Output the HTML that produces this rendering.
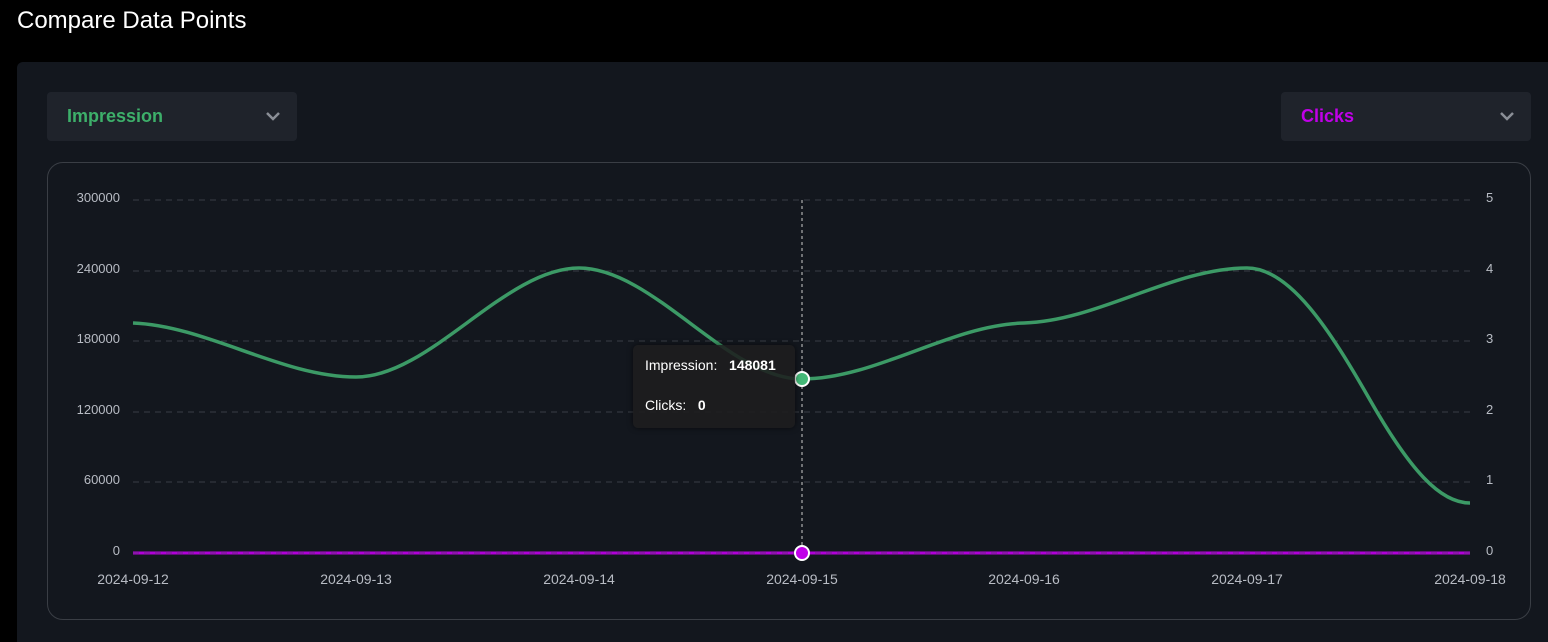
<!DOCTYPE html>
<html><head><meta charset="utf-8"><style>
body{margin:0;width:1548px;height:635px;background:#000;overflow:hidden;font-family:"Liberation Sans",sans-serif;position:relative}
.t{position:absolute;left:17px;top:7px;color:#fff;font-size:24px}
.panel{position:absolute;left:17px;top:62px;width:1531px;height:580px;background:#13171e;border-radius:6px 0 0 0}
.dd{position:absolute;top:92px;width:250px;height:49px;background:#1f232b;border-radius:4px;font-size:18px;font-weight:bold}
.dd span{position:absolute;left:20px;top:14px}
.dd svg{position:absolute;right:16px;top:19px}
.box{position:absolute;left:47px;top:162px;width:1482px;height:456px;border:1px solid #3a3e45;border-radius:16px}
.tip{position:absolute;left:633px;top:345px;width:162px;height:83px;background:rgba(30,30,31,.88);border-radius:5px;box-shadow:0 0 6px rgba(0,0,0,.6);color:#fff;font-size:14px}
</style></head><body>
<div class="t">Compare Data Points</div>
<div class="panel"></div>
<div class="dd" style="left:47px;color:#3daf6a"><span>Impression</span><svg width="16" height="10"><path d="M2 2l6 6 6-6" stroke="#8a8e96" stroke-width="2.5" fill="none"/></svg></div>
<div class="dd" style="left:1281px;color:#c000e8"><span>Clicks</span><svg width="16" height="10"><path d="M2 2l6 6 6-6" stroke="#8a8e96" stroke-width="2.5" fill="none"/></svg></div>
<div class="box"></div>
<svg style="position:absolute;left:0;top:0" width="1548" height="635" font-family="Liberation Sans" font-size="13" fill="#b8bcc4">
<g stroke="#3a3e45" stroke-dasharray="6 5">
<line x1="133" x2="1470" y1="200" y2="200"/><line x1="133" x2="1470" y1="271" y2="271"/><line x1="133" x2="1470" y1="341" y2="341"/><line x1="133" x2="1470" y1="412" y2="412"/><line x1="133" x2="1470" y1="482" y2="482"/>
</g>
<g text-anchor="end"><text x="120" y="202">300000</text><text x="120" y="273">240000</text><text x="120" y="343">180000</text><text x="120" y="414">120000</text><text x="120" y="484">60000</text><text x="120" y="555">0</text></g>
<g><text x="1486" y="202">5</text><text x="1486" y="273">4</text><text x="1486" y="343">3</text><text x="1486" y="414">2</text><text x="1486" y="484">1</text><text x="1486" y="555">0</text></g>
<g text-anchor="middle" font-size="14"><text x="133" y="584">2024-09-12</text><text x="356" y="584">2024-09-13</text><text x="579" y="584">2024-09-14</text><text x="802" y="584">2024-09-15</text><text x="1024" y="584">2024-09-16</text><text x="1247" y="584">2024-09-17</text><text x="1470" y="584">2024-09-18</text></g>
<line x1="802" x2="802" y1="200" y2="553" stroke="#ccc" stroke-dasharray="3 3"/>
<path d="M133 323C207 326 282 377 356 377C430 377 505 268 579 268C653 268 728 379 802 379C876 379 950 325 1024 323C1098 321 1173 268 1247 268C1290 268 1330 330 1370 400C1410 470 1440 503 1470 503" fill="none" stroke="#3c9a66" stroke-width="3.5"/>
<line x1="133" x2="1470" y1="553" y2="553" stroke="#b000d8" stroke-width="3"/>
<line x1="133" x2="1470" y1="553" y2="553" stroke="#6a2a80" stroke-dasharray="6 5" stroke-width="1"/>
<circle cx="802" cy="379" r="7" fill="#44b978" stroke="#fff" stroke-width="2"/>
<circle cx="802" cy="553" r="7" fill="#c000e8" stroke="#fff" stroke-width="2"/>
</svg>
<div class="tip"><div style="position:absolute;left:12px;top:12px">Impression:&nbsp;&nbsp; <b>148081</b></div><div style="position:absolute;left:12px;top:52px">Clicks:&nbsp;&nbsp; <b>0</b></div></div>
</body></html>
